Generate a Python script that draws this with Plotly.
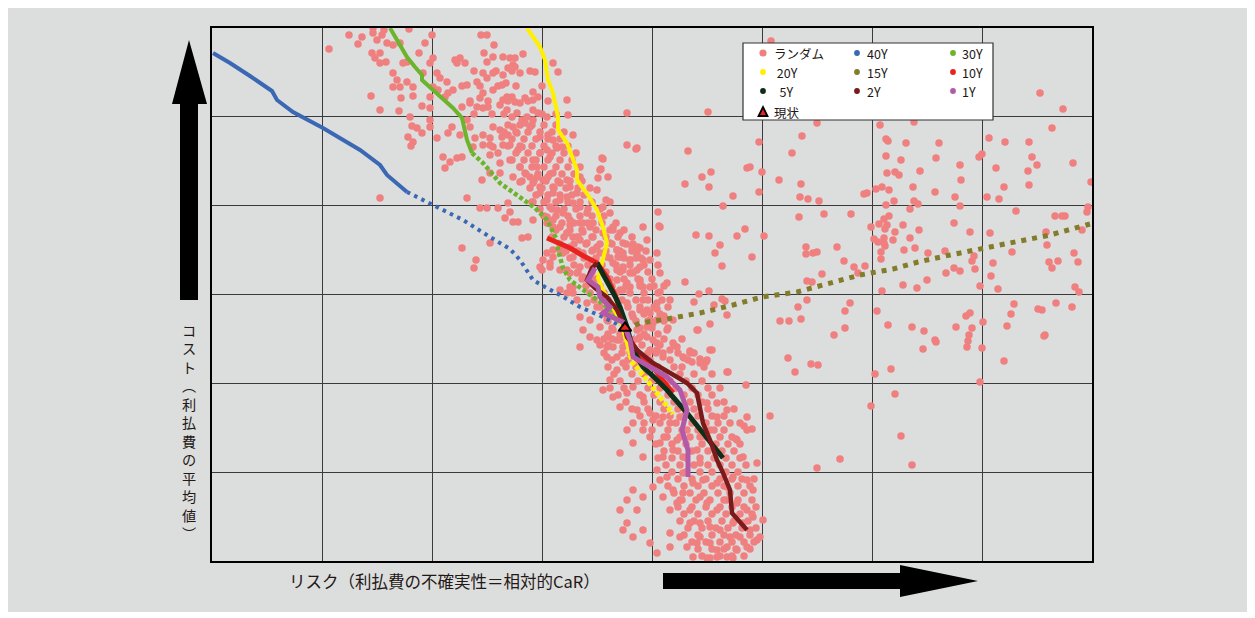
import plotly.graph_objects as go

# ---------------- data (risk = relative CaR units, cost = mean interest units) -------------
random_points = [
    # sparse right-hand region
    (605,438),(668,436),(702,439),(840,433),(590,425),(547,419),(476,410),(777,423),(793,419),(817,419),
    (674,422),(676,420),(694,418),(727,418),(580,408),(674,405),(724,403),(767,404),(770,407),(820,404),
    (861,398),(689,401),(535,393),(538,394),(550,389),(490,384),(499,389),(675,388),(683,389),(687,386),
    (708,390),(748,396),(784,393),(816,390),(825,396),(567,381),(749,381),(473,377),(497,374),(589,377),
    (670,374),(677,371),(664,372),(701,374),(723,369),(792,374),(817,376),(879,379),(547,369),(521,365),
    (588,364),(596,362),(607,360),(652,367),(655,368),(743,364),(775,364),(787,362),(682,360),(674,356),
    (702,360),(706,357),(748,355),(698,352),(446,349),(511,355),(612,347),(639,347),(587,344),(804,350),
    (843,345),(850,345),(853,345),(876,354),(875,349),(447,335),(533,332),(659,334),(667,337),(672,342),
    (677,345),(675,336),(691,336),(673,332),(683,329),(707,331),(742,338),(758,329),(778,328),(834,329),
    (870,331),(484,326),(497,325),(525,325),(552,325),(662,322),(666,319),(672,323),(672,318),(673,315),
    (681,321),(698,323),(508,316),(594,314),(594,307),(601,308),(605,309),(625,314),(703,313),(503,308),
    (540,304),(669,309),(669,302),(632,300),(642,294),(653,295),(646,288),(692,311),(716,308),(733,310),
    (762,305),(760,300),(763,292),(800,309),(835,316),(837,299),(846,300),(862,308),(866,299),(781,298),
    (840,293),(510,295),(473,279),(610,287),(595,280),(600,279),(734,288),(742,293),(748,290),(779,285),
    (715,281),(691,276),(705,273),(670,270),(768,275),(786,272),(863,274),(867,269),(487,267),(497,270),
    (510,262),(513,260),(482,259),(595,261),(638,258),(633,250),(586,254),(502,256),(515,246),(498,237),
    (486,231),(568,240),(577,240),(589,242),(665,250),(802,257),(799,247),(826,252),(830,251),(844,258),
    (860,254),(754,245),(758,248),(771,239),(795,235),(676,236),(700,234),(712,230),(744,234),(760,233),
    (757,226),(723,221),(724,219),(756,220),(755,214),(711,212),(622,226),(633,233),(832,225),(833,226),
    (770,213),(500,211),(478,210),(472,203),(480,199),(488,202),(494,199),(576,203),(583,189),(599,197),
    (606,196),(516,189),(679,192),(663,187),(792,200),(768,179),(534,176),(683,167),(659,155),(558,145),
    (689,125),(700,96),(628,102),(605,93),(540,132),(532,135),(524,122),
    (415,448),(496,449),(415,416),(424,412),(391,402),(389,392),(396,384),(394,361),(398,359),(398,348),
    (401,331),(421,317),(426,314),(406,304),(429,303),(828,468),(851,452),(559,520),
    # upper-left cloud
    (137,526),(117,512),(150,524),(146,517),(161,533),(161,528),(170,526),(165,521),(172,531),(175,518),
    (181,516),(188,518),(197,532),(220,526),(213,518),(269,526),(275,526),(282,516),(160,508),(168,508),
    (163,503),(168,498),(174,499),(191,498),(195,499),(207,508),(218,498),(221,503),(243,501),(245,498),
    (248,503),(253,498),(272,508),(275,499),(281,504),(291,504),(298,503),(303,503),(311,507),(301,496),
    (303,494),(181,488),(185,481),(195,479),(188,474),(181,474),(201,474),(211,488),(225,488),(228,483),
    (235,479),(221,474),(241,471),(255,476),(265,479),(271,488),(275,483),(281,488),(291,486),(296,493),
    (308,488),(290,476),(294,478),(271,468),(268,463),(281,471),(291,461),(295,464),(300,464),(303,459),
    (308,458),(313,463),(321,469),(326,464),(323,489),(341,498),(346,489),(321,461),(159,465),(168,451),
    (187,450),(189,463),(201,465),(210,455),(218,453),(218,464),(226,471),(233,464),(236,468),(250,454),
    (258,458),(265,454),(271,453),(276,454),(288,456),(295,451),(300,444),(305,448),(310,441),(315,444),
    (321,451),(326,448),(335,444),(355,461),(356,446),(198,444),(200,435),(205,433),(210,428),(196,424),
    (201,419),(199,415),(218,434),(225,423),(218,441),(240,434),(236,428),(248,426),(255,441),(258,434),
    (263,423),(271,426),(278,423),(281,434),(288,431),(290,424),(296,426),(301,434),(305,428),(313,438),
    (318,434),(321,441),(328,424),(336,426),(341,421),(345,413),(335,411),(328,408),(321,401),(325,394),
    (338,404),(350,414),(361,426),(298,416),(306,411),(310,414),(291,416),(281,414),(286,408),(278,416),
    (271,416),(261,414),(278,406),(288,398),(298,401),(308,394),(313,388),(318,384),(321,378),(231,404),
    (238,399),(245,403),(250,404),(233,393),(270,381),(278,388),(288,388),(301,384),(308,379),(325,384),
    (328,374),(331,381),(336,384),(341,388),(341,374),(348,378),(355,381),(358,374),(365,368),(368,384),
    (385,371),(391,354),(425,291),(431,274),(418,288),(415,278),(405,291),(388,391),(390,403),(425,413),
    (386,383),(255,363),(168,363),(321,359),(328,368),(335,361),(341,368),(348,361),(355,364),(361,358),
    (368,354),(375,348),(381,338),(371,338),(358,341),(351,348),(345,351),(338,354),(335,344),(341,341),
    (348,334),(355,328),(361,324),(368,321),(375,318),(381,311),(388,308),(371,308),(358,314),(351,308),
    (341,311),(335,308),(331,301),(338,294),(328,294),(330,291),(355,291),(365,288),(371,284),(378,278),
    (358,274),(348,271),(361,268),(411,308),(405,311),(411,294),(418,301),(431,301),(408,271),(428,281),
    (293,343),(268,353),(275,353),(286,353),(296,358),(301,339),(306,339),(310,323),(316,324),(250,313),
    (264,301),(262,293),(321,341),(278,318),(298,349),
    # band around the current position
    (335,338),(341,334),(358,336),(368,338),(378,334),(355,328),(365,324),(371,329),(381,324),(391,328),
    (401,334),(408,328),(398,318),(405,311),(411,318),(420,314),(425,308),(428,313),(418,301),(408,304),
    (401,298),(411,291),(421,288),(428,278),(418,274),(411,271),(405,281),(395,304),(385,314),(348,311),
    (341,304),(361,304),(368,294),(358,288),(348,291),(338,298),(361,274),(355,268),(365,261),(375,258),
    (385,254),(368,244),(378,241),(388,234),(395,241),(401,231),(371,231),(378,224),(368,214),(385,221),
    (395,214),(405,221),(411,214),(421,211),(428,224),(435,234),(438,241),(428,251),(431,261),(445,258),
    (438,274),(448,269),(458,261),(448,288),(455,278),(428,294),(438,301),(435,321),(431,334),(448,334),
    (445,308),(461,241),(455,231),(461,218),(445,211),(428,204),(451,204),(405,204),(398,248),(391,261),
    (415,258),(421,244),(425,231),(435,251),(445,241),(441,221),(421,221),(408,241),(385,274),(378,284),
    (391,288),(438,248),(445,252),(452,245),(441,238),
    # lower tail
    (395,224),(401,214),(408,221),(435,224),(438,211),(445,218),(451,208),(458,211),(465,214),(471,204),
    (478,208),(488,198),(485,231),(498,211),(515,189),(495,201),(395,204),(405,191),(411,198),(398,181),
    (391,171),(401,164),(415,168),(408,154),(421,174),(431,164),(438,148),(425,151),(421,138),(431,131),
    (441,141),(451,144),(458,138),(468,144),(475,131),(465,121),(455,124),(448,118),(451,104),(461,111),
    (471,104),(485,111),(488,124),(498,131),(505,144),(505,158),(515,151),(528,138),(535,144),(525,121),
    (531,104),(545,98),(488,98),(471,88),(481,78),(491,81),(505,78),(515,74),(521,84),(535,81),
    (541,71),(488,64),(471,68),(465,58),(478,51),(495,58),(505,51),(515,61),(525,58),(535,51),
    (541,44),(478,38),(488,38),(498,34),(508,31),(518,24),(528,24),(538,31),(545,21),(488,24),
    (498,18),(505,11),(515,14),(525,11),(535,14),(505,4),(515,4),(498,3),(481,4),(475,14),
    (468,24),(458,28),(468,61),(458,51),(461,71),(451,64),(441,74),(448,81),(431,64),(421,71),
    (415,61),(425,51),(408,51),(415,38),(411,31),(431,31),(421,24),(438,18),(445,8),(458,14),
    (485,18),(495,3),(421,118),(415,131),(408,108),(431,104),(445,91),(455,84),(535,131),(548,24),
    (521,3),(531,38),(551,41),(521,38),(495,158),
]

# dense core of the random cloud, read row by row (cost level, risks seen on that row)
dense_rows = [
    (490, [262, 284, 300, 318]),
    (475, [250, 268, 286, 304, 330]),
    (460, [258, 276, 296, 316, 336]),
    (447, [262, 280, 292, 330, 344]),
    (436, [296, 308, 320, 332, 344]),
    (429, [292, 304, 316, 328, 340, 352]),
    (422, [300, 312, 324, 336, 348]),
    (415, [296, 308, 320, 332, 344, 356]),
    (408, [304, 316, 328, 340, 352, 364]),
    (401, [300, 312, 324, 336, 348, 360]),
    (394, [308, 320, 332, 344, 356, 368]),
    (387, [314, 326, 338, 350, 362]),
    (380, [310, 322, 334, 346, 358, 370]),
    (373, [318, 330, 342, 354, 366, 378]),
    (366, [324, 336, 348, 360, 372]),
    (359, [320, 332, 344, 356, 368, 380]),
    (352, [328, 340, 352, 364, 376, 388]),
    (345, [332, 344, 356, 368, 380, 392]),
    (338, [336, 350, 362, 376, 390, 404]),
    (331, [344, 358, 370, 384, 398, 412]),
    (324, [340, 352, 366, 380, 394, 406, 420]),
    (317, [348, 362, 374, 388, 400, 414]),
    (310, [354, 366, 380, 394, 408, 420, 434]),
    (303, [358, 372, 384, 398, 412, 424]),
    (296, [362, 376, 390, 404, 418, 432, 446]),
    (289, [366, 380, 394, 408, 420, 436]),
    (282, [370, 384, 398, 412, 426, 440]),
    (275, [374, 388, 400, 414, 428, 442, 452]),
    (268, [378, 392, 404, 418, 432, 446]),
    (261, [382, 396, 410, 424, 436, 450]),
    (254, [388, 402, 416, 428, 442, 456]),
    (247, [392, 406, 420, 432, 448]),
    (240, [396, 410, 424, 436, 452]),
    (233, [400, 412, 428, 440, 456]),
    (227, [396, 408, 432, 446]),
    (222, [392, 400, 418, 426, 452, 470]),
    (216, [388, 396, 414, 430, 448, 462]),
    (208, [392, 410, 418, 436, 444, 466, 482]),
    (201, [400, 416, 426, 438, 458, 476]),
    (194, [396, 414, 424, 446, 462, 470, 492]),
    (187, [402, 420, 432, 452, 468, 482, 500]),
    (180, [408, 426, 440, 458, 474, 490]),
    (173, [398, 412, 436, 448, 464, 480, 496, 508]),
    (166, [406, 428, 442, 456, 472, 486, 500]),
    (159, [414, 432, 448, 462, 478, 490, 512]),
    (152, [420, 436, 452, 466, 482, 496, 522]),
    (145, [428, 444, 458, 472, 486, 500, 512]),
    (138, [432, 448, 464, 480, 494, 506, 518]),
    (131, [440, 456, 470, 486, 502, 512]),
    (124, [438, 452, 468, 478, 494, 508, 520]),
    (117, [444, 460, 474, 490, 504, 516, 528]),
    (110, [452, 466, 480, 496, 510, 522]),
    (103, [446, 460, 474, 488, 502, 514, 528]),
    (96, [454, 468, 482, 496, 508, 520, 534]),
    (89, [460, 474, 488, 500, 514, 526]),
    (82, [466, 480, 494, 508, 520, 530, 542]),
    (75, [456, 472, 486, 500, 512, 526, 538]),
    (68, [462, 478, 492, 506, 518, 532]),
    (61, [470, 484, 498, 512, 526, 540]),
    (54, [466, 480, 494, 508, 520, 532, 544]),
    (47, [472, 486, 500, 514, 528, 540]),
    (40, [468, 482, 496, 510, 522, 536]),
    (33, [476, 490, 504, 516, 530, 544]),
    (26, [472, 486, 500, 512, 524, 538]),
    (19, [480, 494, 508, 520, 532, 542]),
    (12, [486, 500, 512, 524, 538]),
    (5, [490, 508, 520, 532]),
]

random_risk = [p[0] for p in random_points] + [r for c, rs in dense_rows for r in rs]
random_cost = [p[1] for p in random_points] + [c for c, rs in dense_rows for r in rs]

y40_risk = [1, 18, 38, 60, 65, 81, 111, 148, 168, 175, 195, 221, 251, 278, 298, 308, 321, 333, 348, 368, 391, 413, 422]
y40_cost = [508, 498, 485, 470, 461, 449, 433, 411, 396, 386, 369, 356, 341, 324, 312, 301, 281, 274, 266, 254, 244, 233, 225]
y30_risk = [178, 186, 195, 203, 210, 210, 221, 233, 241, 250, 252, 255, 260, 271, 288, 308, 323, 335, 341, 345, 346, 351, 358, 371, 381, 395, 406, 414]
y30_cost = [533, 519, 504, 494, 486, 481, 471, 461, 453, 443, 433, 421, 408, 398, 378, 364, 353, 341, 329, 321, 311, 293, 281, 271, 264, 254, 241, 231]
y20_risk = [315, 323, 328, 333, 335, 336, 341, 346, 346, 355, 365, 365, 376, 385, 391, 395, 390, 386, 391, 395, 403, 408, 415, 418, 421, 435, 448, 461]
y20_cost = [533, 521, 514, 501, 489, 481, 468, 444, 431, 418, 391, 381, 366, 351, 334, 318, 298, 283, 271, 264, 249, 241, 218, 206, 198, 181, 164, 147]
y15_risk = [413, 428, 455, 488, 521, 550, 585, 615, 648, 681, 706, 738, 771, 808, 838, 878]
y15_cost = [231, 238, 242, 248, 256, 264, 269, 277, 286, 292, 299, 306, 313, 320, 326, 337]
y10_risk = [335, 348, 358, 368, 376, 385, 395, 403, 410, 415, 428, 443, 453, 461]
y10_cost = [323, 317, 313, 307, 303, 298, 284, 266, 246, 226, 206, 191, 178, 168]
y5_risk = [385, 392, 398, 404, 408, 415, 421, 431, 443, 455, 475, 495, 511]
y5_cost = [298, 286, 274, 263, 254, 234, 211, 194, 183, 171, 148, 124, 103]
y2_risk = [385, 380, 375, 383, 395, 405, 413, 415, 425, 441, 465, 475, 485, 488, 491, 498, 505, 511, 518, 520, 528, 535]
y2_cost = [298, 293, 281, 273, 264, 251, 234, 224, 211, 198, 184, 178, 168, 154, 138, 121, 101, 88, 71, 48, 38, 31]
y1_risk = [383, 376, 386, 388, 398, 391, 411, 415, 418, 421, 438, 455, 468, 475, 470, 476, 476]
y1_cost = [293, 281, 274, 264, 254, 248, 239, 228, 221, 204, 194, 184, 171, 151, 131, 111, 84]
current_risk = [413]
current_cost = [233]

legend_labels = ["ランダム", "40Y", "30Y", " 20Y", "15Y", "10Y", "  5Y", "2Y", "1Y", "現状"]
x_title = "リスク（利払費の不確実性＝相対的CaR）"
y_title_chars = ["コ", "ス", "ト", "︵", "利", "払", "費", "の", "平", "均", "値", "︶"]

# ---------------- layout geometry ----------------
W, H = 1255, 618
L, R, T, B = 212, 1092, 28, 561
X_MAX, Y_MAX = 880, 533


def px(x):
    return (x - L) / (R - L)


def py(y):
    return (B - y) / (B - T)


FONT = "Noto Sans CJK JP, Noto Sans, sans-serif"
TXT = "#231815"
BG = "#dcdddd"

C_RAND = "#f08080"
C40, C30, C20, C15 = "#3b68b4", "#6cb42c", "#fff000", "#837c2a"
C10, C5, C2, C1 = "#e8231f", "#0f2e17", "#7b1a1a", "#b25aa8"

fig = go.Figure()

fig.add_trace(go.Scatter(x=random_risk, y=random_cost, mode="markers",
                         marker=dict(size=7.5, color=C_RAND, line=dict(width=0)),
                         hoverinfo="skip", showlegend=False))


def add_line(xs, ys, color, width, dash="solid"):
    fig.add_trace(go.Scatter(x=xs, y=ys, mode="lines",
                             line=dict(color=color, width=width, dash=dash),
                             hoverinfo="skip", showlegend=False))


add_line(y40_risk[:11], y40_cost[:11], C40, 4)
add_line(y40_risk[10:], y40_cost[10:], C40, 4, "3.5px,4.5px")
add_line(y30_risk[:13], y30_cost[:13], C30, 4)
add_line(y30_risk[12:], y30_cost[12:], C30, 4.5, "4px,2.5px")
add_line(y20_risk[:24], y20_cost[:24], C20, 4)
add_line(y20_risk[23:], y20_cost[23:], C20, 5, "4.5px,2px")
add_line(y15_risk, y15_cost, C15, 5, "5px,6px")
add_line(y10_risk, y10_cost, C10, 5)
add_line(y5_risk, y5_cost, C5, 5)
add_line(y2_risk, y2_cost, C2, 4.5)
add_line(y1_risk, y1_cost, C1, 5)

fig.add_trace(go.Scatter(x=current_risk, y=current_cost, mode="markers",
                         marker=dict(symbol="triangle-up", size=11, color=C10,
                                     line=dict(color="black", width=2)),
                         hoverinfo="skip", showlegend=False))

shapes = []
# grey page panel
shapes.append(dict(type="rect", xref="paper", yref="paper", x0=px(8), x1=px(1247), y0=py(612), y1=py(8),
                   fillcolor=BG, line=dict(width=0), layer="below"))


def path(points):
    return "M " + " L ".join(f"{px(a):.5f},{py(b):.5f}" for a, b in points) + " Z"


# vertical arrow (cost)
shapes.append(dict(type="path", xref="paper", yref="paper",
                   path=path([(180, 300), (180, 104), (172, 104), (189, 40), (207, 104), (198, 104), (198, 300)]),
                   fillcolor="black", line=dict(width=0), layer="above"))
# horizontal arrow (risk)
shapes.append(dict(type="path", xref="paper", yref="paper",
                   path=path([(663, 573), (900, 573), (900, 565), (978, 581), (900, 597), (900, 589), (663, 589)]),
                   fillcolor="black", line=dict(width=0), layer="above"))
# legend box
shapes.append(dict(type="rect", xref="paper", yref="paper", x0=px(743), x1=px(993), y0=py(120), y1=py(43),
                   fillcolor="white", line=dict(color="#333333", width=1.2), layer="above"))

legend_colors = [C_RAND, C40, C30, C20, C15, C10, C5, C2, C1]
col_mark_x = [763, 857, 953]
col_text_x = [772, 865, 960]
row_y = [53, 72, 91, 112]
annotations = []
for i, lab in enumerate(legend_labels):
    r, c = divmod(i, 3)
    mx, my = col_mark_x[c], row_y[r]
    if i < 9:
        rad = 3.6 if i == 0 else 2.9
        shapes.append(dict(type="circle", xref="paper", yref="paper",
                           x0=px(mx - rad), x1=px(mx + rad), y0=py(my + rad), y1=py(my - rad),
                           fillcolor=legend_colors[i], line=dict(width=0), layer="above"))
    else:
        shapes.append(dict(type="path", xref="paper", yref="paper",
                           path=path([(mx - 4.5, my + 4), (mx + 4.5, my + 4), (mx, my - 5)]),
                           fillcolor=C10, line=dict(color="black", width=1.8), layer="above"))
    annotations.append(dict(xref="paper", yref="paper", x=px(col_text_x[c]), y=py(my),
                            text=lab.replace(" ", "&nbsp;"), showarrow=False, xanchor="left", yanchor="middle",
                            font=dict(family=FONT, size=12.5, color=TXT)))

# x title
annotations.append(dict(xref="paper", yref="paper", x=px(287), y=py(581), text=x_title, showarrow=False,
                        xanchor="left", yanchor="middle", font=dict(family=FONT, size=16.5, color=TXT)))
# vertical y title (stacked characters, vertical writing)
annotations.append(dict(xref="paper", yref="paper", x=px(189), y=py(431), text="<br>".join(y_title_chars),
                        showarrow=False, xanchor="center", yanchor="middle", align="center",
                        borderpad=0, font=dict(family=FONT, size=14.2, color=TXT)))

axis_common = dict(showticklabels=False, ticks="", zeroline=False, showgrid=True,
                   gridcolor="#3a3a3a", gridwidth=1, showline=True, mirror=True,
                   linecolor="black", linewidth=2, fixedrange=True)

fig.update_layout(
    width=W, height=H, autosize=False,
    margin=dict(l=L, r=W - R, t=T, b=H - B, pad=0),
    paper_bgcolor="white", plot_bgcolor=BG,
    showlegend=False,
    xaxis=dict(range=[0, X_MAX], tick0=0, dtick=110, **axis_common),
    yaxis=dict(range=[0, Y_MAX], tick0=0, dtick=Y_MAX / 6, **axis_common),
    shapes=shapes, annotations=annotations,
    font=dict(family=FONT, color=TXT),
)

fig.write_html("out.html")
